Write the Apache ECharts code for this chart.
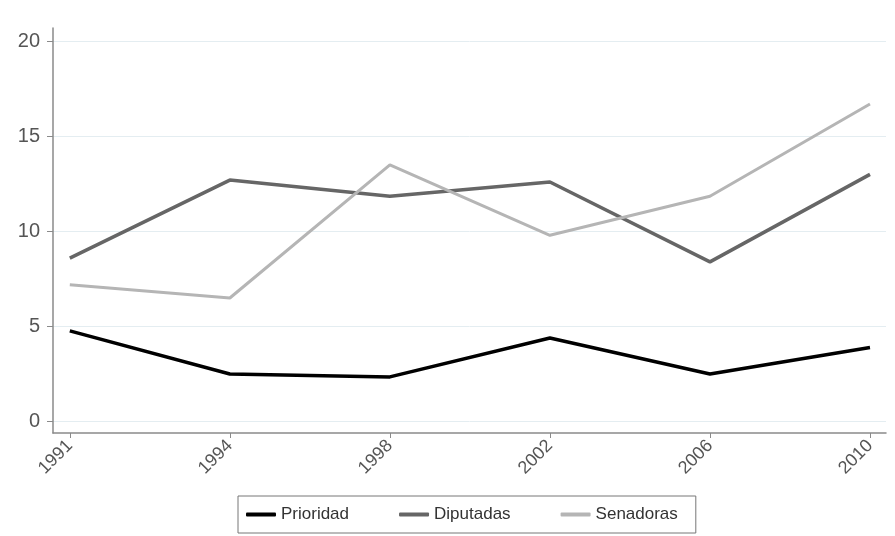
<!DOCTYPE html>
<html><head><meta charset="utf-8">
<script src="https://cdn.jsdelivr.net/npm/echarts@6/dist/echarts.min.js"></script>
<style>html,body{margin:0;padding:0;background:#fff}#c{width:895px;height:536px}</style>
</head><body><div id="c"></div>
<script>
const years = ['1991','1994','1998','2002','2006','2010'];
const prioridad = [4.77, 2.5, 2.35, 4.4, 2.5, 3.9];
const diputadas = [8.6, 12.7, 11.85, 12.6, 8.4, 13.0];
const senadoras = [7.2, 6.5, 13.5, 9.8, 11.85, 16.7];
const yTicks = [0, 5, 10, 15, 20];

const idx = years.map((_, i) => i);
const pairs = arr => arr.map((v, i) => [i, v]);

const chart = echarts.init(document.getElementById('c'));
chart.setOption({
  animation: false,
  grid: {left: 53, right: 9, top: 28, bottom: 103},
  xAxis: {
    type: 'value', min: -0.105, max: 5.1,
    axisLine: {show: true, onZero: false, lineStyle: {color: '#8a8a8a', width: 1.5}},
    axisTick: {show: true, customValues: idx, length: 5, lineStyle: {color: '#8a8a8a'}},
    axisLabel: {customValues: idx, formatter: v => years[Math.round(v)] || '', rotate: 45,
      color: '#555', fontSize: 18, fontFamily: 'Liberation Sans, Arial', margin: 10},
    splitLine: {show: false}
  },
  yAxis: {
    type: 'value', min: -0.6, max: 20.7,
    axisLine: {show: true, onZero: false, lineStyle: {color: '#8a8a8a', width: 1.5}},
    axisTick: {show: true, customValues: yTicks, length: 6, lineStyle: {color: '#8a8a8a'}},
    axisLabel: {customValues: yTicks, color: '#555', fontSize: 20, fontFamily: 'Liberation Sans, Arial', margin: 13},
    splitLine: {show: true, lineStyle: {color: '#e4edf1', width: 1}}
  },
  legend: {
    bottom: 3, left: 238,
    data: ['Prioridad', 'Diputadas', 'Senadoras'],
    borderColor: '#777', borderWidth: 1, padding: [10, 18, 10, 8],
    itemGap: 50, itemWidth: 30, itemHeight: 4, icon: 'roundRect',
    textStyle: {color: '#333', fontSize: 17, fontFamily: 'Liberation Sans, Arial'}
  },
  series: [
    {name: 'Prioridad', type: 'line', data: pairs(prioridad), symbol: 'none',
      lineStyle: {color: '#000', width: 3.5}, itemStyle: {color: '#000'}},
    {name: 'Diputadas', type: 'line', data: pairs(diputadas), symbol: 'none',
      lineStyle: {color: '#666', width: 3.5}, itemStyle: {color: '#666'}},
    {name: 'Senadoras', type: 'line', data: pairs(senadoras), symbol: 'none',
      lineStyle: {color: '#b5b5b5', width: 3}, itemStyle: {color: '#b5b5b5'}}
  ]
});
</script></body></html>
